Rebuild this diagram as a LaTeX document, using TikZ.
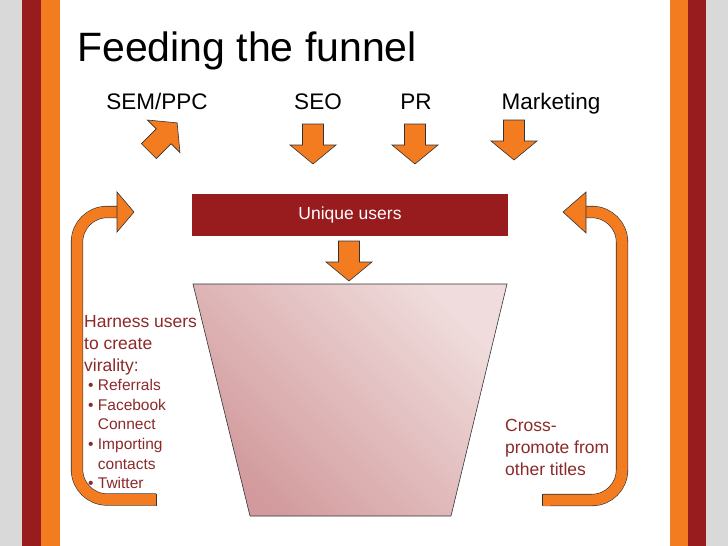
\documentclass[tikz,border=0pt]{standalone}
\usepackage{fontspec}
\setmainfont{Liberation Sans}
\definecolor{dred}{HTML}{981B1E}
\definecolor{orng}{HTML}{F37B20}
\definecolor{gry}{HTML}{D9D9D9}
\definecolor{txtred}{HTML}{8C2A2A}
\definecolor{funA}{HTML}{F0DCDC}
\definecolor{funB}{HTML}{D29A9C}
\newcommand\funarrow[3]{\draw[arr] (#1-10.5,#2) -- ++(21,0) -- ++(0,21) -- ++(12.5,0) -- (#1,#2+40) -- ++(-23,-19) -- ++(12.5,0) -- cycle; \coordinate (#3) at (#1,#2+20);}
\tikzset{arr/.style={fill=orng,draw=black!80,line width=0.6pt,line join=miter},
band/.style={draw=black!80,line width=0.6pt,double=orng,double distance=11pt,rounded corners=30pt},
lab/.style={font=\fontsize{22.5}{26}\selectfont,inner sep=0pt,anchor=base},
side/.style={font=\fontsize{17.5}{22}\selectfont,text=txtred,inner sep=0pt,align=left,anchor=north west}}
\begin{document}
\begin{tikzpicture}[x=1pt,y=-1pt]
\useasboundingbox (0,0) rectangle (728,546);
\fill[white] (0,0) rectangle (728,546);
\fill[gry] (0,0) rectangle (22,546);
\fill[dred] (22,0) rectangle (41,546);
\fill[orng] (41,0) rectangle (60,546);
\fill[orng] (670,0) rectangle (688,546);
\fill[dred] (688,0) rectangle (706,546);
\fill[gry] (706,0) rectangle (728,546);
\node[anchor=base west,inner sep=0pt,font=\fontsize{41}{44}\selectfont] (title) at (77,61) {Feeding the funnel};
\node[lab] (sem) at (157,109) {SEM/PPC};
\node[lab] (seo) at (318,109) {SEO};
\node[lab] (pr) at (416,109) {PR};
\node[lab] (mkt) at (551,109) {Marketing};
\begin{scope}[rotate around={135:(163,137)}]
\funarrow{163}{117}{a1}
\end{scope}
\funarrow{313}{124}{a2}
\funarrow{415}{124}{a3}
\funarrow{514}{120}{a4}
\node[fill=dred,minimum width=316pt,minimum height=42pt,inner sep=0pt,text=white,font=\fontsize{17.5}{20}\selectfont] (uu) at (350,215) {Unique users};
\funarrow{349}{241}{a5}
\shade[left color=funA,right color=funB,shading angle=-45] (193,284) -- (507,284) -- (451,516) -- (250,516) -- cycle;
\draw[black!80,line width=0.6pt] (193,284) -- (507,284) -- (451,516) -- (250,516) -- cycle;
\draw[band] (156,499.5) -- (77,499.5) -- (77,212) -- (118,212);
\fill[orng] (150,494) rectangle (157,505);
\draw[black!80,line width=0.6pt] (156.5,493.5) -- (156.5,505.5);
\draw[arr] (117,192) -- (134,212) -- (117,232) -- cycle;
\draw[band] (543,500) -- (622,500) -- (622,212) -- (584,212);
\fill[orng] (543,494.5) rectangle (550,505.5);
\draw[black!80,line width=0.6pt] (542.5,494) -- (542.5,506);
\draw[arr] (586,192) -- (563,212) -- (586,233) -- cycle;
\node[side] (harn) at (84,315) {Harness users\\to create\\virality:};
\node[side,font=\fontsize{15.5}{19.7}\selectfont] (bul) at (88,379) {\textbullet\ Referrals\\\textbullet\ Facebook\\\phantom{\textbullet\ }Connect\\\textbullet\ Importing\\\phantom{\textbullet\ }contacts\\\textbullet\ Twitter};
\node[side] (cross) at (505,419) {Cross-\\promote from\\other titles};
\end{tikzpicture}
\end{document}
